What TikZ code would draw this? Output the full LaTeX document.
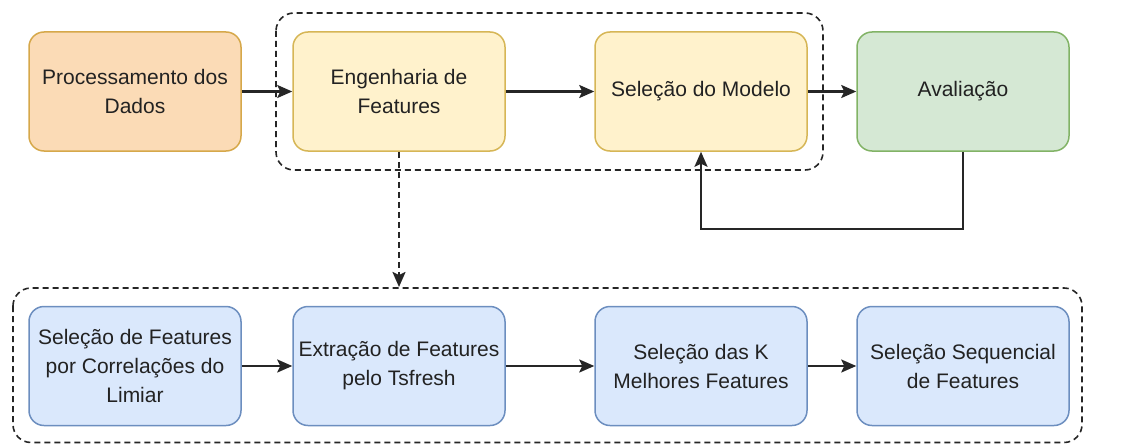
\documentclass[tikz,border=0pt]{standalone}
\usepackage{fontspec}
\setmainfont{Liberation Sans}
\usetikzlibrary{arrows.meta}
\definecolor{orfill}{HTML}{FBDBB6}
\definecolor{ordraw}{HTML}{D6A84A}
\definecolor{yefill}{HTML}{FFF2CC}
\definecolor{yedraw}{HTML}{D6B656}
\definecolor{grfill}{HTML}{D5E8D4}
\definecolor{grdraw}{HTML}{82B366}
\definecolor{blfill}{HTML}{DAE8FC}
\definecolor{bldraw}{HTML}{6C8EBF}
\definecolor{txt}{HTML}{222222}
\tikzset{
  box/.style={draw, line width=1.5pt, rounded corners=15pt, minimum width=212pt, minimum height=119pt,
    align=center, text=txt, font=\fontsize{21pt}{29pt}\selectfont, inner sep=0pt},
  orbox/.style={box, fill=orfill, draw=ordraw},
  yebox/.style={box, fill=yefill, draw=yedraw},
  grbox/.style={box, fill=grfill, draw=grdraw},
  blbox/.style={box, fill=blfill, draw=bldraw},
  group/.style={draw=black!85, line width=1.6pt, dash pattern=on 6pt off 4pt, rounded corners=18pt},
  arr/.style={draw=black!85, line width=2.2pt, -{Stealth[length=15pt,width=13pt,inset=3pt]}},
  darr/.style={arr, dash pattern=on 6pt off 4pt}
}
\begin{document}
\begin{tikzpicture}[x=1pt,y=-1pt]
\useasboundingbox (0,0) rectangle (1145,444);
\coordinate (g1a) at (276,13);
\coordinate (g1b) at (823,170);
\coordinate (g2a) at (13,288);
\coordinate (g2b) at (1082,442.5);
\draw[group] (g1a) rectangle (g1b);
\draw[group] (g2a) rectangle (g2b);
\node[orbox] (proc) at (135,91.5) {Processamento dos\\Dados};
\node[yebox] (eng) at (399,91.5) {Engenharia de\\Features};
\node[yebox] (sel) at (701,91.5) {Seleção do Modelo};
\node[grbox] (aval) at (963,91.5) {Avaliação};
\node[blbox] (b1) at (135,366) {Seleção de Features\\por Correlações do\\Limiar};
\node[blbox] (b2) at (399,366) {Extração de Features\\pelo Tsfresh};
\node[blbox] (b3) at (701,366) {Seleção das K\\Melhores Features};
\node[blbox] (b4) at (963,366) {Seleção Sequencial\\de Features};
\coordinate (bt) at (399,287);
\coordinate (fb) at (963,229);
\draw[arr] (proc) -- (eng);
\draw[arr] (eng) -- (sel);
\draw[arr] (sel) -- (aval);
\draw[arr] (aval.south) -- (fb) -| (sel.south);
\draw[darr] (eng.south) -- (bt);
\draw[arr] (b1) -- (b2);
\draw[arr] (b2) -- (b3);
\draw[arr] (b3) -- (b4);
\end{tikzpicture}
\end{document}
